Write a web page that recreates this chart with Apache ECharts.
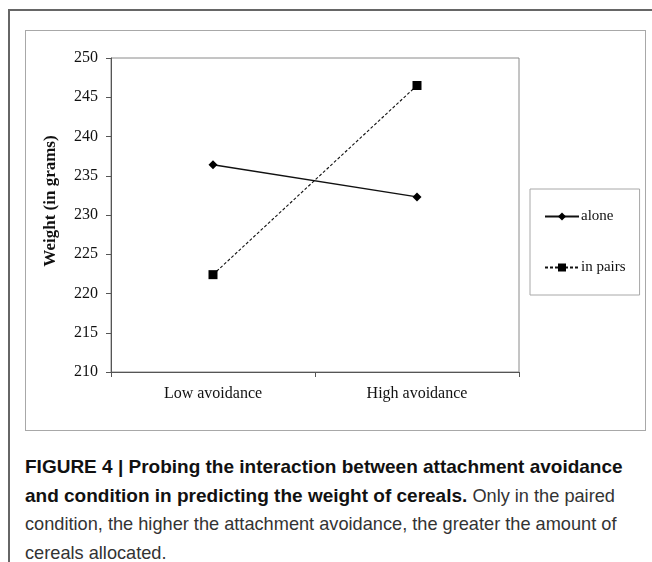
<!DOCTYPE html>
<html>
<head>
<meta charset="utf-8">
<script src="https://cdn.jsdelivr.net/npm/echarts@6/dist/echarts.min.js"></script>
<style>
    html, body {
        margin: 0;
        padding: 0;
        background: #fff;
    }
    .page {
        position: relative;
        width: 652px;
        height: 562px;
        overflow: hidden;
    }
    .frame {
        position: absolute;
        left: 8px;
        top: 9px;
        width: 660px;
        height: 600px;
        border-left: 2px solid #666;
        border-top: 2px solid #666;
    }
    .chart {
        position: absolute;
        left: 25px;
        top: 30px;
        width: 619px;
        height: 399px;
        border: 1px solid #a8a8a8;
    }
    .caption {
        position: absolute;
        left: 25px;
        top: 453px;
        width: 604px;
        font-family: "Liberation Sans", Arial, sans-serif;
        font-size: 19px;
        line-height: 28.5px;
        color: #333;
    }
    .caption b {
        color: #111;
    }
    .caption span {
        font-size: 18.2px;
    }
</style>
</head>
<body>
<div class="page">
    <div class="frame"></div>
    <div id="chart" class="chart"></div>
    <div class="caption">
        <b>FIGURE 4 | Probing the interaction between attachment avoidance and condition in predicting the weight of cereals.</b><span> Only in the paired condition, the higher the attachment avoidance, the greater the amount of cereals allocated.</span>
    </div>
</div>
<script>
// 数据
const categories = ['Low avoidance', 'High avoidance'];
const aloneValues = [236.4, 232.3];
const pairsValues = [222.4, 246.5];
const yTicks = [210, 215, 220, 225, 230, 235, 240, 245, 250];

const serif = '"Liberation Serif", "Times New Roman", serif';

const chart = echarts.init(document.getElementById('chart'));

const option = {
    animation: false,
    backgroundColor: '#fff',
    grid: {
        left: 85,
        top: 27,
        right: 126,
        bottom: 58,
        show: true,
        borderColor: '#8a8a8a',
        borderWidth: 1
    },
    legend: {
        orient: 'vertical',
        left: 504,
        top: 158,
        padding: [20, 14, 20, 14],
        itemGap: 36,
        itemWidth: 34,
        itemHeight: 10,
        borderColor: '#a8a8a8',
        borderWidth: 1,
        textStyle: {
            fontFamily: serif,
            fontSize: 15,
            color: '#111',
            padding: [0, 0, 0, -3]
        },
        data: ['alone', 'in pairs']
    },
    xAxis: {
        type: 'category',
        data: categories,
        boundaryGap: true,
        axisLine: { lineStyle: { color: '#555', width: 1 } },
        axisTick: { show: true, length: 5, lineStyle: { color: '#555' } },
        axisLabel: {
            fontFamily: serif,
            fontSize: 16,
            color: '#111',
            margin: 14
        }
    },
    yAxis: {
        type: 'value',
        min: yTicks[0],
        max: yTicks[yTicks.length - 1],
        interval: 5,
        name: 'Weight (in grams)',
        nameLocation: 'middle',
        nameGap: 52,
        nameTextStyle: {
            fontFamily: serif,
            fontSize: 17,
            fontWeight: 'bold',
            color: '#111',
            padding: [0, 0, 0, 28]
        },
        axisLine: { show: true, lineStyle: { color: '#555', width: 1 } },
        axisTick: { show: true, length: 5, lineStyle: { color: '#555' } },
        splitLine: { show: false },
        axisLabel: {
            fontFamily: serif,
            fontSize: 16,
            color: '#111',
            margin: 13
        }
    },
    series: [
        {
            name: 'alone',
            type: 'line',
            data: aloneValues,
            symbol: 'diamond',
            symbolSize: 9,
            showAllSymbol: true,
            itemStyle: { color: '#000' },
            lineStyle: { color: '#111', width: 1.3, type: 'solid' }
        },
        {
            name: 'in pairs',
            type: 'line',
            data: pairsValues,
            symbol: 'rect',
            symbolSize: 9,
            showAllSymbol: true,
            itemStyle: { color: '#000' },
            lineStyle: { color: '#111', width: 1.1, type: [3, 2] }
        }
    ]
};

chart.setOption(option);
</script>
</body>
</html>
